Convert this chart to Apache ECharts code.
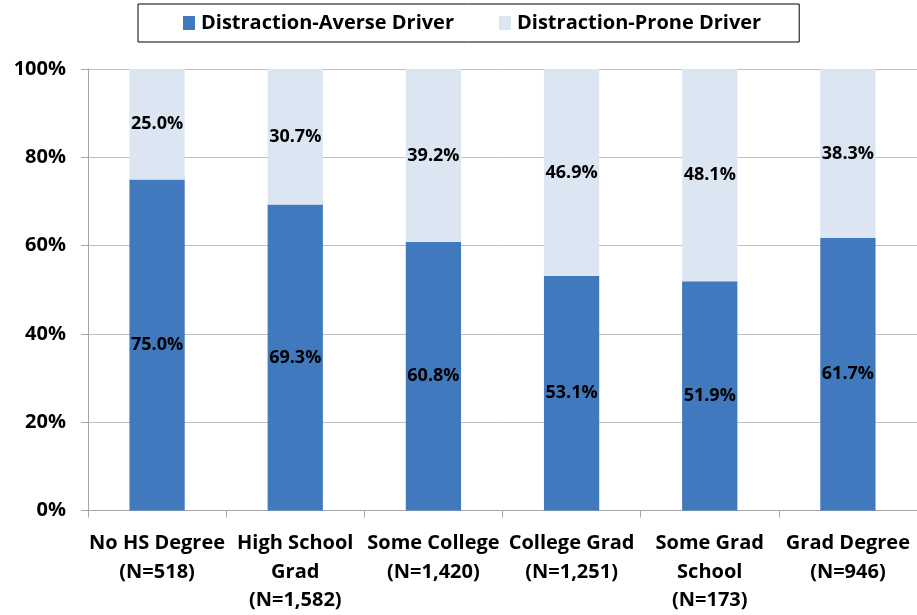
<!DOCTYPE html>
<html>
<head>
<meta charset="utf-8">
<script src="https://cdn.jsdelivr.net/npm/echarts@6/dist/echarts.min.js"></script>
<style>
  html, body { margin: 0; padding: 0; background: #fff; }
  #chart { width: 917px; height: 615px; }
</style>
</head>
<body>
<div id="chart"></div>
<script>
const categories = [
  'No HS Degree\n(N=518)',
  'High School\nGrad\n(N=1,582)',
  'Some College\n(N=1,420)',
  'College Grad\n(N=1,251)',
  'Some Grad\nSchool\n(N=173)',
  'Grad Degree\n(N=946)',
];
const averse = [75.0, 69.3, 60.8, 53.1, 51.9, 61.7];
const prone = [25.0, 30.7, 39.2, 46.9, 48.1, 38.3];
const yTicks = [0, 20, 40, 60, 80, 100];

const font = '"Open Sans", "Liberation Sans", sans-serif';
const chart = echarts.init(document.getElementById('chart'));

const labelStyle = {
  show: true,
  position: 'inside',
  color: '#000',
  fontFamily: font,
  fontWeight: 'bold',
  fontSize: 18,
  formatter: p => p.value.toFixed(1) + '%',
};

chart.setOption({
  animation: false,
  legend: {
    data: ['Distraction-Averse Driver', 'Distraction-Prone Driver'],
    icon: 'rect',
    left: 138,
    top: 4,
    padding: [9, 38, 9, 45],
    itemWidth: 12,
    itemHeight: 14,
    itemGap: 45,
    borderColor: '#000',
    borderWidth: 1,
    borderRadius: 0,
    textStyle: { fontFamily: font, fontWeight: 'bold', fontSize: 20, color: '#000', padding: [0, 0, 0, 1] },
  },
  grid: { left: 88, right: -4, top: 69, bottom: 104 },
  xAxis: {
    type: 'category',
    data: categories,
    axisLine: { lineStyle: { color: '#a6a6a6' } },
    axisTick: { show: true, length: 7, lineStyle: { color: '#a6a6a6' } },
    axisLabel: {
      interval: 0,
      margin: 19,
      color: '#000',
      fontFamily: font,
      fontWeight: 'bold',
      fontSize: 20,
      lineHeight: 28.5,
    },
  },
  yAxis: {
    type: 'value',
    min: yTicks[0],
    max: yTicks[yTicks.length - 1],
    interval: 20,
    axisLine: { show: true, lineStyle: { color: '#a6a6a6' } },
    axisTick: { show: true, length: 7, lineStyle: { color: '#a6a6a6' } },
    splitLine: { lineStyle: { color: '#bfbfbf' } },
    axisLabel: {
      margin: 22,
      color: '#000',
      fontFamily: font,
      fontWeight: 'bold',
      fontSize: 20,
      formatter: v => v + '%',
    },
  },
  series: [
    {
      name: 'Distraction-Averse Driver',
      type: 'bar',
      stack: 'total',
      data: averse,
      barWidth: '40%',
      itemStyle: { color: '#4079BE' },
      label: labelStyle,
    },
    {
      name: 'Distraction-Prone Driver',
      type: 'bar',
      stack: 'total',
      data: prone,
      barWidth: '40%',
      itemStyle: { color: '#DBE6F2' },
      label: labelStyle,
    },
  ],
});
</script>
</body>
</html>
